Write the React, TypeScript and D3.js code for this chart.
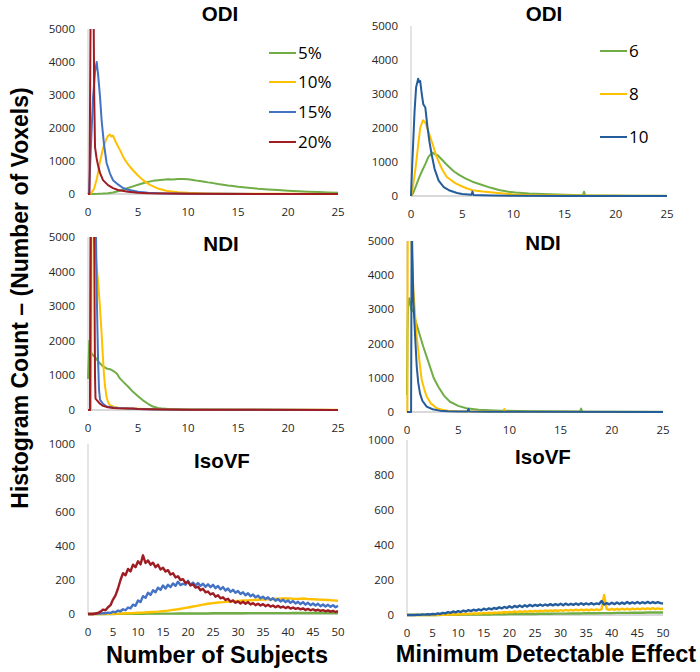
import React from 'react';
import * as d3 from 'd3';

type Pt = [number, number];

// ---------- legend labels / categories ----------
const subjectLevels = ['5%', '10%', '15%', '20%'];
const mdeLevels = ['6', '8', '10'];

// ---------- tick labels ----------
const yTicksCount5000 = [0, 1000, 2000, 3000, 4000, 5000];
const yTicksCount1000 = [0, 200, 400, 600, 800, 1000];
const xTicks25 = [0, 5, 10, 15, 20, 25];
const xTicks50 = [0, 5, 10, 15, 20, 25, 30, 35, 40, 45, 50];

// ---------- ODI vs Number of Subjects ----------
const odiSub5: Pt[] = [[0,0],[0.5,2],[1,5],[1.5,12],[2,25],[2.5,48],[3,85],[3.5,130],[4,180],[4.5,232],[5,278],[5.5,325],[6,368],[6.5,398],[7,418],[7.5,432],[8,446],[8.5,440],[9,458],[9.5,452],[10,446],[10.5,424],[11,398],[11.5,380],[12,352],[12.5,330],[13,302],[13.5,280],[14,258],[14.5,240],[15,220],[16,192],[17,162],[18,140],[19,118],[20,98],[21,80],[22,68],[23,58],[24,48],[25,40]];
const odiSub10: Pt[] = [[0,0],[0.3,15],[0.6,150],[0.9,480],[1.2,980],[1.5,1380],[1.8,1640],[2.0,1760],[2.2,1800],[2.35,1740],[2.5,1770],[2.8,1560],[3.2,1330],[3.6,1080],[4,900],[4.5,720],[5,560],[5.5,420],[6.2,275],[7,165],[7.8,100],[9,55],[10,35],[12,18],[15,8],[20,4],[25,2]];
const odiSub15: Pt[] = [[0,0],[0.1,30],[0.3,1500],[0.5,2900],[0.7,3700],[0.87,4000],[1.0,3650],[1.2,2950],[1.36,2240],[1.6,1500],[1.86,940],[2.2,620],[2.5,420],[3,290],[3.5,180],[4,130],[5,70],[6,40],[7,25],[8,15],[10,8],[15,4],[25,2]];
const odiSub20: Pt[] = [[0,0],[0.15,0],[0.27,6000],[0.55,6000],[0.62,3000],[0.7,1430],[0.85,1100],[1.03,830],[1.2,640],[1.5,420],[2,270],[2.5,180],[3,120],[4,70],[5,40],[6,25],[8,12],[10,6],[15,3],[25,1]];

// ---------- ODI vs Minimum Detectable Effect ----------
const odiMde6: Pt[] = [[0,0],[0.2,80],[0.46,275],[0.8,550],[1.1,750],[1.43,960],[1.7,1150],[2.08,1275],[2.3,1230],[2.6,1200],[3.06,1060],[3.4,950],[3.7,860],[4.2,720],[4.7,620],[5.3,520],[6,420],[6.96,325],[7.8,240],[8.6,175],[9.4,130],[10.2,100],[11.5,75],[13.5,50],[15,35],[16.8,25],[16.9,125],[17,25],[19,15],[22,8],[25,5]];
const odiMde8: Pt[] = [[0,0],[0.2,300],[0.46,860],[0.7,1500],[0.9,2000],[1.17,2230],[1.4,2150],[1.7,1900],[2.08,1550],[2.5,1150],[3.06,770],[3.5,560],[4.36,370],[5,280],[5.5,220],[6,170],[7,130],[8,100],[9,75],[9.6,60],[10,45],[12,25],[15,12],[20,5],[25,3]];
const odiMde10: Pt[] = [[0,0],[0.13,1000],[0.35,2500],[0.5,3200],[0.7,3450],[0.8,3350],[0.9,3380],[1.05,3000],[1.2,2700],[1.4,2600],[1.6,2050],[1.8,1600],[2.0,1250],[2.3,800],[2.7,450],[3.2,260],[3.7,170],[4.5,90],[5,60],[5.9,35],[6,130],[6.1,30],[7,20],[8,12],[10,6],[15,3],[25,1]];

// ---------- NDI vs Number of Subjects ----------
const ndiSub5: Pt[] = [[0,900],[0.05,1300],[0.13,2000],[0.25,1700],[0.37,1640],[0.5,1580],[0.69,1540],[0.9,1450],[1.19,1350],[1.5,1260],[1.85,1200],[2.2,1180],[2.68,1100],[2.9,1050],[3.17,920],[3.5,820],[4,680],[4.5,525],[5,400],[5.49,280],[6,180],[6.48,100],[7,60],[7.5,40],[8,30],[10,15],[15,6],[25,3]];
const ndiSub10: Pt[] = [[0,0],[0.3,0],[0.35,6000],[0.55,5200],[0.69,4700],[0.85,4200],[1.02,3660],[1.2,2950],[1.36,2200],[1.5,1500],[1.59,1060],[1.7,700],[1.85,385],[2,230],[2.18,145],[2.6,90],[3.17,60],[4,45],[5,35],[7,20],[10,10],[15,6],[25,4]];
const ndiSub15: Pt[] = [[0,0],[0.2,0],[0.3,6000],[0.75,6000],[0.9,3000],[1.0,1500],[1.1,600],[1.2,300],[1.5,180],[1.85,100],[2.5,70],[3,55],[4,40],[5,30],[7,15],[10,8],[15,4],[25,2]];
const ndiSub20: Pt[] = [[0,0],[0.2,0],[0.27,6000],[0.6,6000],[0.7,1000],[0.75,330],[0.9,280],[1.2,180],[1.5,120],[2,80],[2.5,60],[3,50],[4,40],[4.5,45],[5,30],[6,20],[8,12],[10,8],[15,5],[25,3]];

// ---------- NDI vs Minimum Detectable Effect ----------
const ndiMde6: Pt[] = [[0,500],[0.05,2300],[0.1,3100],[0.23,3325],[0.35,3100],[0.46,2950],[0.6,3000],[0.8,2700],[1.1,2400],[1.6,1900],[2.25,1320],[2.6,1000],[3.06,740],[3.6,480],[4.2,300],[5,180],[5.8,108],[7,65],[9.1,40],[12,25],[16.9,15],[17,100],[17.1,15],[20,10],[25,6]];
const ndiMde8: Pt[] = [[0,0],[0.04,0],[0.05,2300],[0.08,6000],[0.35,6000],[0.45,4800],[0.62,3600],[0.78,2900],[0.95,2200],[1.1,1800],[1.27,1350],[1.43,950],[1.7,650],[1.92,450],[2.3,260],[2.9,110],[3.5,60],[4,40],[5,25],[7,15],[9.4,10],[9.5,90],[9.6,10],[12,6],[25,3]];
const ndiMde10: Pt[] = [[0,0],[0.4,0],[0.46,6000],[0.5,5000],[0.62,3275],[0.78,2300],[0.95,1330],[1.1,850],[1.27,545],[1.5,330],[1.92,155],[2.5,80],[3.2,40],[4,25],[5,15],[5.9,12],[6,90],[6.1,12],[8,8],[12,5],[25,2]];

// ---------- IsoVF (histogram bins every 0.5 or 1 unit, 0..50) ----------
const isoSub20 = [
  0,0,0,3,6,14,26,22,40,52,
  85,110,150,200,240,228,265,250,290,275,
  310,292,345,300,315,290,302,275,290,262,
  272,250,258,232,240,215,222,200,205,182,
  190,168,175,155,160,140,148,128,132,115,
  122,102,110,92,98,82,90,72,80,66,
  74,62,72,60,70,56,64,52,60,50,
  58,46,54,44,50,40,48,38,44,35,
  42,32,38,30,35,27,33,24,30,22,
  28,20,25,18,23,16,21,14,19,12,
  16];
const isoSub15 = [
  0,0,0,1,3,2,5,4,8,6,
  14,10,20,16,28,22,38,34,55,48,
  80,70,105,95,125,112,140,128,155,142,
  168,150,172,158,180,165,190,170,178,172,
  195,170,185,168,182,165,178,160,175,158,
  172,152,165,145,158,138,150,130,142,125,
  135,118,128,110,122,105,115,98,108,92,
  102,88,98,82,92,78,88,74,84,70,
  80,66,76,62,72,58,70,55,66,52,
  62,50,60,46,56,44,54,42,52,40,
  48];
const isoSub10 = [0,0,0,0,1,1,2,3,4,5, 7,8,10,12,14,17,20,24,28,33, 38,44,49,55,60,64,68,70,73,75, 77,79,80,82,84,85,86,88,90,91, 92,90,89,91,88,87,85,84,82,80, 78];
const isoSub5 = [0,0,0,0,0,0,1,1,1,1, 1,1,2,2,2,2,2,2,3,3, 3,3,3,3,3,4,4,4,4,4, 4,4,5,5,5,5,5,5,5,5, 5,6,6,6,6,6,6,6,6,6, 6];

const isoMde10 = [
  0,0,1,0,2,1,3,2,4,3,
  6,4,9,6,12,9,16,12,20,15,
  22,17,25,20,28,22,30,25,32,27,
  36,30,38,32,40,35,44,38,46,40,
  50,42,52,45,54,46,56,48,58,50,
  58,52,60,53,60,54,62,55,62,56,
  64,56,65,57,64,58,66,58,67,59,
  66,60,68,60,66,62,80,60,68,61,
  70,62,72,63,71,64,74,65,72,66,
  74,66,73,67,75,67,74,68,73,68,
  66];
const isoMde8 = [
  0,0,0,0,0,0,0,0,0,0,
  1,0,1,1,2,1,3,2,4,3,
  5,4,6,5,8,6,9,7,10,8,
  12,9,13,10,14,12,15,13,17,14,
  18,15,20,16,21,17,22,18,23,19,
  24,20,25,21,26,22,26,23,27,23,
  28,24,29,25,29,26,30,26,31,27,
  31,27,32,28,32,28,33,115,34,29,
  35,30,35,30,36,31,36,31,37,32,
  37,32,38,33,38,33,39,34,38,34,
  36];
const isoMde6 = [0,0,0,0,0,0,0,1,1,1, 1,2,2,2,3,3,3,4,4,4, 5,5,5,6,6,6,7,7,7,8, 8,8,9,9,9,10,10,10,11,11, 11,12,12,12,13,13,13,14,14,14, 14];

// ---------- colours ----------
const GREEN = '#70AD47';
const YELLOW = '#FFC000';
const BLUE = '#4472C4';
const RED = '#9E1C22';
const DARKBLUE = '#245C9C';

const binsHalf = (vals: number[]): Pt[] => vals.map((v, i) => [i * 0.5, v]);
const binsOne = (vals: number[]): Pt[] => vals.map((v, i) => [i, v]);

interface Series { data: Pt[]; color: string; width: number; }
interface PanelCfg {
  id: string; title: string; titleX: number; titleY: number;
  x0: number; x1: number; yTop: number; yBot: number;
  xMax: number; yMax: number; xTicks: number[]; yTicks: number[];
  series: Series[];
}

const subColors = [GREEN, YELLOW, BLUE, RED];
const mdeColors = [GREEN, YELLOW, DARKBLUE];

const panels: PanelCfg[] = [
  { id: 'p1', title: 'ODI', titleX: 220, titleY: 13, x0: 88, x1: 338, yTop: 29, yBot: 194, xMax: 25, yMax: 5000, xTicks: xTicks25, yTicks: yTicksCount5000,
    series: [odiSub5, odiSub10, odiSub15, odiSub20].map((d, i) => ({ data: d, color: subColors[i], width: 2 })) },
  { id: 'p2', title: 'ODI', titleX: 544, titleY: 13, x0: 411, x1: 667, yTop: 26, yBot: 196, xMax: 25, yMax: 5000, xTicks: xTicks25, yTicks: yTicksCount5000,
    series: [odiMde6, odiMde8, odiMde10].map((d, i) => ({ data: d, color: mdeColors[i], width: 2 })) },
  { id: 'p3', title: 'NDI', titleX: 221, titleY: 243, x0: 88, x1: 338, yTop: 237, yBot: 410, xMax: 25, yMax: 5000, xTicks: xTicks25, yTicks: yTicksCount5000,
    series: [ndiSub5, ndiSub10, ndiSub15, ndiSub20].map((d, i) => ({ data: d, color: subColors[i], width: 2 })) },
  { id: 'p4', title: 'NDI', titleX: 543, titleY: 242, x0: 407, x1: 663, yTop: 241, yBot: 412, xMax: 25, yMax: 5000, xTicks: xTicks25, yTicks: yTicksCount5000,
    series: [ndiMde6, ndiMde8, ndiMde10].map((d, i) => ({ data: d, color: mdeColors[i], width: 2 })) },
  { id: 'p5', title: 'IsoVF', titleX: 222, titleY: 460, x0: 88, x1: 338, yTop: 444, yBot: 614, xMax: 50, yMax: 1000, xTicks: xTicks50, yTicks: yTicksCount1000,
    series: [binsOne(isoSub5), binsOne(isoSub10), binsHalf(isoSub15), binsHalf(isoSub20)].map((d, i) => ({ data: d, color: subColors[i], width: 2.4 })) },
  { id: 'p6', title: 'IsoVF', titleX: 543, titleY: 456, x0: 407, x1: 663, yTop: 440, yBot: 615, xMax: 50, yMax: 1000, xTicks: xTicks50, yTicks: yTicksCount1000,
    series: [binsOne(isoMde6), binsHalf(isoMde8), binsHalf(isoMde10)].map((d, i) => ({ data: d, color: mdeColors[i], width: 2.4 })) },
];

const TICK_FONT = '"Open Sans", "Noto Sans", sans-serif';
const BOLD_FONT = '"Liberation Sans", Arial, sans-serif';

function Panel({ p }: { p: PanelCfg }) {
  const x = d3.scaleLinear().domain([0, p.xMax]).range([p.x0, p.x1]);
  const y = d3.scaleLinear().domain([0, p.yMax]).range([p.yBot, p.yTop]);
  const line = d3.line<Pt>().x(d => x(d[0])).y(d => y(d[1]));
  return (
    <g>
      <defs>
        <clipPath id={`${p.id}-clip`}>
          <rect x={p.x0 - 2} y={p.yTop} width={p.x1 - p.x0 + 6} height={p.yBot - p.yTop + 3} />
        </clipPath>
      </defs>
      <line x1={p.x0} x2={p.x0} y1={p.yTop} y2={p.yBot} stroke="#c9c9c9" strokeWidth={1} />
      <line x1={p.x0} x2={p.x1} y1={p.yBot} y2={p.yBot} stroke="#b3b3b3" strokeWidth={1} />
      {p.yTicks.map(t => (
        <text key={`y${t}`} x={p.x0 - 13} y={y(t)} dy="0.35em" textAnchor="end" fontFamily={TICK_FONT} fontSize={11.5} fill="#262626">{t}</text>
      ))}
      {p.xTicks.map(t => (
        <text key={`x${t}`} x={x(t)} y={p.yBot + 18} dy="0.35em" textAnchor="middle" fontFamily={TICK_FONT} fontSize={11.5} fill="#262626">{t}</text>
      ))}
      <g clipPath={`url(#${p.id}-clip)`}>
        {p.series.map((s, i) => (
          <path key={i} d={line(s.data) || ''} fill="none" stroke={s.color} strokeWidth={s.width} strokeLinejoin="round" />
        ))}
      </g>
      <text x={p.titleX} y={p.titleY + 7.5} textAnchor="middle" fontFamily={BOLD_FONT} fontWeight={700} fontSize={20.5} fill="#000">{p.title}</text>
    </g>
  );
}

const legendSubY = [53, 82, 112, 142];
const legendMdeY = [51, 94, 137];

export default function App() {
  return (
    <svg width={700} height={672} style={{ position: 'absolute', left: 0, top: 0, background: '#fff' }}>
      <rect width={700} height={672} fill="#fff" />
      {panels.map(p => <Panel key={p.id} p={p} />)}
      {subjectLevels.map((lab, i) => (
        <g key={lab}>
          <line x1={269} x2={296} y1={legendSubY[i]} y2={legendSubY[i]} stroke={subColors[i]} strokeWidth={2} />
          <text x={298} y={legendSubY[i]} dy="0.36em" fontFamily={TICK_FONT} fontSize={17} fill="#000">{lab}</text>
        </g>
      ))}
      {mdeLevels.map((lab, i) => (
        <g key={lab}>
          <line x1={600} x2={627} y1={legendMdeY[i]} y2={legendMdeY[i]} stroke={mdeColors[i]} strokeWidth={2} />
          <text x={629} y={legendMdeY[i]} dy="0.36em" fontFamily={TICK_FONT} fontSize={17} fill="#000">{lab}</text>
        </g>
      ))}
      <text x={217} y={663} textAnchor="middle" fontFamily={BOLD_FONT} fontWeight={700} fontSize={23.5} fill="#000">Number of Subjects</text>
      <text x={546} y={662} textAnchor="middle" fontFamily={BOLD_FONT} fontWeight={700} fontSize={23.5} fill="#000">Minimum Detectable Effect</text>
      <text transform="translate(28,298) rotate(-90)" textAnchor="middle" fontFamily={BOLD_FONT} fontWeight={700} fontSize={23} fill="#000">Histogram Count – (Number of Voxels)</text>
    </svg>
  );
}
